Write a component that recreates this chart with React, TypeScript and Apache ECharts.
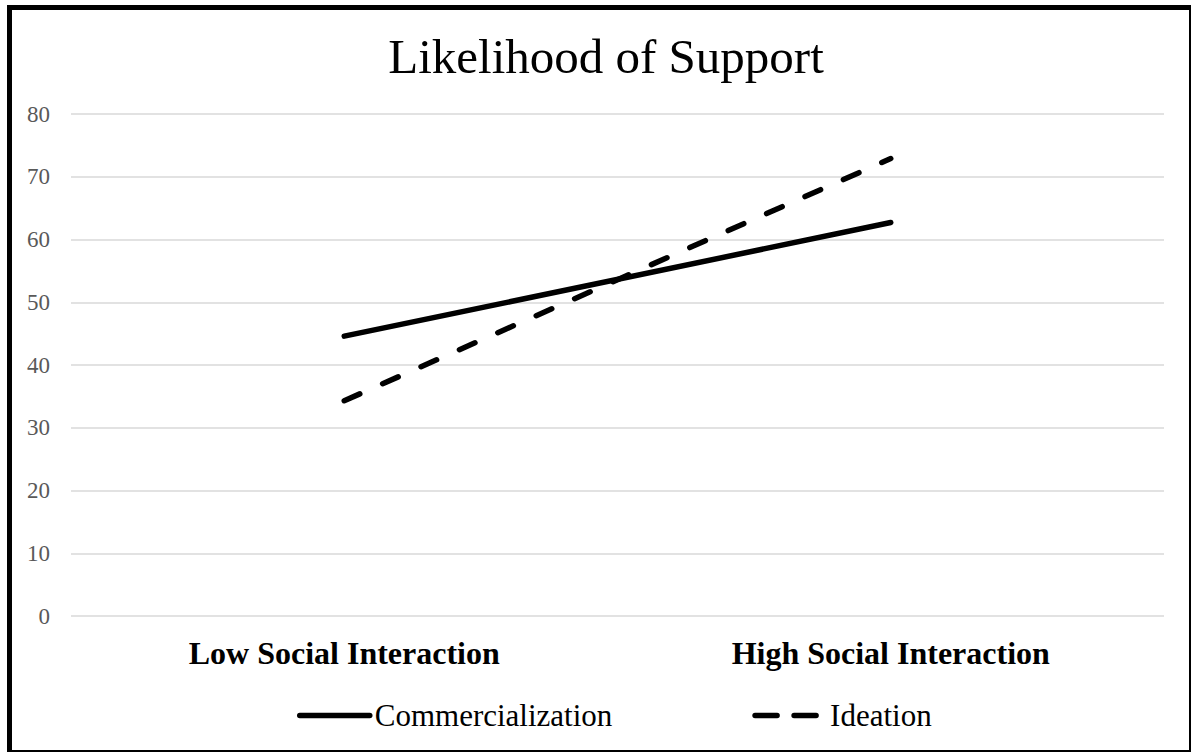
import React, { useEffect, useRef } from "react";
import * as echarts from "echarts";

const categories = ["Low Social Interaction", "High Social Interaction"];
const commercialization = [44.6, 62.7];
const ideation = [34.3, 72.9];
const yMin = 0;
const yMax = 80;
const yInterval = 10;

const FONT = '"Liberation Serif", "Times New Roman", serif';

export default function App() {
  const ref = useRef<HTMLDivElement>(null);
  useEffect(() => {
    if (!ref.current) return;
    const chart = echarts.init(ref.current, undefined, { renderer: "svg" });
    chart.setOption({
      animation: false,
      backgroundColor: "#ffffff",
      title: {
        text: "Likelihood of Support",
        left: 601,
        textAlign: "center",
        top: 27,
        textStyle: { fontFamily: FONT, fontSize: 49, fontWeight: "normal", color: "#000" },
      },
      legend: {
        left: 292,
        top: 695,
        itemWidth: 70,
        itemHeight: 14,
        itemGap: 140,
        itemStyle: { opacity: 0 },
        textStyle: { fontFamily: FONT, fontSize: 31, color: "#000" },
        data: [
          {
            name: "Commercialization",
            lineStyle: { width: 5.5, cap: "round", color: "#000", type: "solid" },
          },
          {
            name: "Ideation",
            lineStyle: { width: 5.5, cap: "round", color: "#000", type: [22, 17] },
          },
        ],
      },
      grid: { left: 71, right: 28, top: 114, bottom: 137 },
      xAxis: {
        type: "category",
        data: categories,
        boundaryGap: true,
        axisLine: { show: false },
        axisTick: { show: false },
        axisLabel: {
          margin: 21,
          fontFamily: FONT,
          fontSize: 32,
          fontWeight: "bold",
          color: "#000",
        },
      },
      yAxis: {
        type: "value",
        min: yMin,
        max: yMax,
        interval: yInterval,
        axisLine: { show: false },
        axisTick: { show: false },
        axisLabel: { margin: 21, fontFamily: FONT, fontSize: 23, color: "#595959" },
        splitLine: { lineStyle: { color: "#d9d9d9", width: 1.5 } },
      },
      series: [
        {
          name: "Commercialization",
          type: "line",
          data: commercialization,
          symbol: "none",
          color: "#000",
          lineStyle: { color: "#000", width: 5.5, cap: "round", join: "round" },
        },
        {
          name: "Ideation",
          type: "line",
          data: ideation,
          symbol: "none",
          color: "#000",
          lineStyle: { color: "#000", width: 5.5, type: [17, 25], cap: "round", join: "round" },
        },
      ],
      graphic: [
        { type: "rect", shape: { x: 7, y: 5, width: 5, height: 747 }, style: { fill: "#000" } },
        { type: "rect", shape: { x: 7, y: 5, width: 1184, height: 5 }, style: { fill: "#000" } },
        { type: "rect", shape: { x: 1189, y: 5, width: 2, height: 747 }, style: { fill: "#000" } },
        { type: "rect", shape: { x: 7, y: 750, width: 1184, height: 2 }, style: { fill: "#000" } },
      ],
    });
    return () => chart.dispose();
  }, []);
  return (
    <div
      ref={ref}
      style={{ position: "fixed", left: 0, top: 0, width: 1192, height: 753 }}
    />
  );
}
